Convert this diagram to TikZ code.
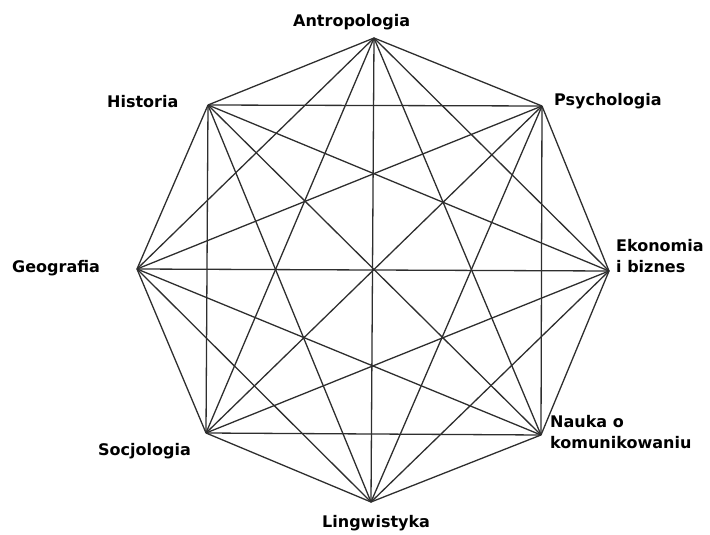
\documentclass[tikz,border=0pt]{standalone}
\usepackage{fontspec}
\setmainfont{DejaVu Sans}
\begin{document}
\begin{tikzpicture}[x=1pt,y=-1pt,
  edge/.style={draw=black!82,line width=1.3pt},
  lab/.style={font=\fontsize{16}{20.5}\selectfont\bfseries,inner sep=0pt,align=left}]
\useasboundingbox (0,0) rectangle (710,535);
\coordinate (v1) at (374,38);
\coordinate (v2) at (542,106);
\coordinate (v3) at (609,271);
\coordinate (v4) at (541,435);
\coordinate (v5) at (371,502);
\coordinate (v6) at (206,433);
\coordinate (v7) at (137,269);
\coordinate (v8) at (208,105);
\foreach \i in {1,...,7}{
  \pgfmathtruncatemacro\s{\i+1}
  \foreach \j in {\s,...,8}{
    \draw[edge] (v\i) -- (v\j);
  }
}
\node[lab,anchor=base west] (ant) at (293,27) {Antropologia};
\node[lab,anchor=base west] (his) at (107,107) {Historia};
\node[lab,anchor=base west] (psy) at (554,106) {Psychologia};
\node[lab,anchor=base west] (geo) at (12,272) {Geografia};
\node[lab,anchor=base west] (eko) at (616,272) {Ekonomia\\i biznes};
\node[lab,anchor=base east] (soc) at (191,455) {Socjologia};
\node[lab,anchor=base west] (nau) at (550,448) {Nauka o\\komunikowaniu};
\node[lab,anchor=base west] (lin) at (322,527) {Lingwistyka};
\end{tikzpicture}
\end{document}
